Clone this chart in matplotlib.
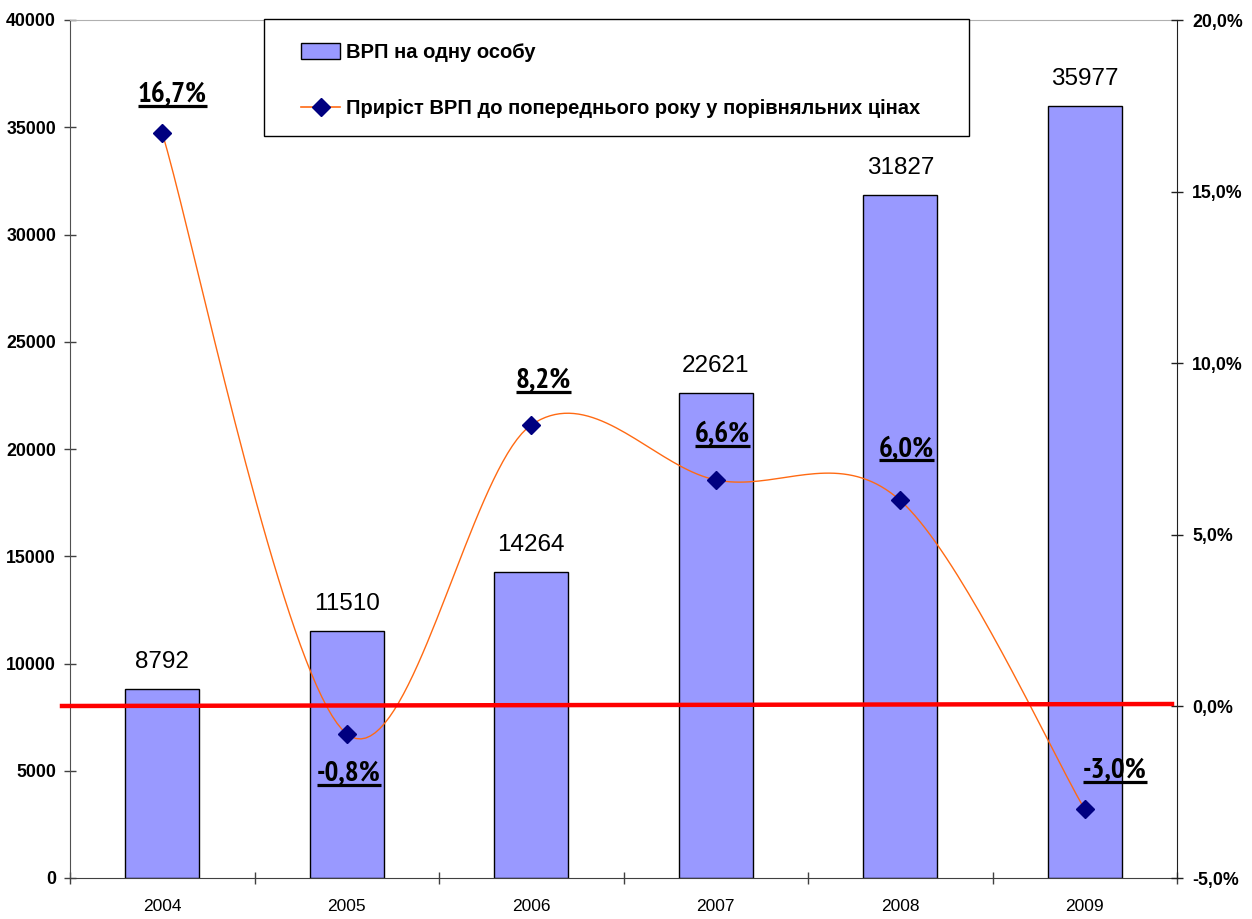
import numpy as np
import matplotlib
matplotlib.use('Agg')
import matplotlib.pyplot as plt
from matplotlib import font_manager as fm
from matplotlib.lines import Line2D
from matplotlib.patches import Rectangle, Patch

# ---------------- data ----------------
years = ['2004', '2005', '2006', '2007', '2008', '2009']
gdp_per_capita = [8792, 11510, 14264, 22621, 31827, 35977]
growth_pct = [16.7, -0.8, 8.2, 6.6, 6.0, -3.0]
growth_labels = ['16,7%', '-0,8%', '8,2%', '6,6%', '6,0%', '-3,0%']
left_ticks = [0, 5000, 10000, 15000, 20000, 25000, 30000, 35000, 40000]
right_ticks = [-5, 0, 5, 10, 15, 20]
right_tick_labels = ['-5,0%', '0,0%', '5,0%', '10,0%', '15,0%', '20,0%']
legend_labels = ['ВРП на одну особу',
                 'Приріст ВРП до попереднього року у порівняльних цінах']
# label offsets (pixels) of growth labels relative to markers
growth_label_dx = [10, 2, 12, 7, 6, 30]
growth_label_dy = [38, -40, 44, 45, 51, 38]

# ---------------- fonts ----------------
names = {f.name for f in fm.fontManager.ttflist}


def pick(cands):
    for c in cands:
        if c in names:
            return c
    return 'Liberation Sans'


SANS = pick(['Liberation Sans', 'Arimo'])
NARROW = pick(['Liberation Sans Narrow', 'Arial Narrow', 'PT Sans Narrow',
               'Roboto Condensed', 'Open Sans Condensed', 'Liberation Sans'])

BAR_C = '#9999FF'
LINE_C = '#FF6A13'
MARK_C = '#000080'

W, H = 1252, 919
fig = plt.figure(figsize=(W / 100, H / 100), dpi=100)
L, R, T, B = 70, 1177, 20, 878
ax = fig.add_axes([L / W, (H - B) / H, (R - L) / W, (B - T) / H])

x = np.arange(len(years))
ax.bar(x, gdp_per_capita, width=0.40, color=BAR_C, edgecolor='black',
       linewidth=1.0, zorder=2)
ax.set_xlim(-0.5, len(years) - 0.5)
ax.set_ylim(0, 40000)
ax.set_yticks(left_ticks)
ax.set_yticklabels([str(v) for v in left_ticks], fontfamily=SANS,
                   fontweight='bold', fontsize=12.8)
ax.set_xticks(np.arange(-0.5, len(years), 1.0))
ax.set_xticklabels([])
ax.set_xticks(x, minor=True)
ax.set_xticklabels(years, minor=True, fontfamily=SANS, fontsize=12.5)
ax.tick_params(axis='x', which='minor', length=0, pad=15)
ax.tick_params(axis='x', which='major', direction='inout', length=9,
               width=1, color='#404040')
ax.tick_params(axis='y', direction='inout', length=8, width=1,
               color='#404040', pad=6)

ax.spines['left'].set_color('#505050')
ax.spines['bottom'].set_color('#404040')
ax.spines['top'].set_color('#B0B0B0')
ax.spines['right'].set_visible(False)

for xi, v in zip(x, gdp_per_capita):
    ax.annotate(str(v), (xi, v), xytext=(0, 19.5), textcoords='offset points',
                ha='center', va='center', fontsize=17.5, fontfamily=SANS,
                zorder=5)

ax2 = ax.twinx()
ax2.set_position(ax.get_position())
ax2.set_ylim(-5, 20)
ax2.set_yticks(right_ticks)
ax2.set_yticklabels(right_tick_labels, fontfamily=SANS, fontweight='bold',
                    fontsize=12.8)
ax2.tick_params(axis='y', direction='inout', length=8, width=1,
                color='#202020', pad=7)
for s in ['left', 'top', 'bottom']:
    ax2.spines[s].set_visible(False)
ax2.spines['right'].set_color('#202020')


def excel_smooth(pts, n=40):
    out = [pts[0]]
    for i in range(len(pts) - 1):
        p0 = pts[i - 1] if i > 0 else pts[i]
        p1 = pts[i]
        p2 = pts[i + 1]
        p3 = pts[i + 2] if i + 2 < len(pts) else pts[i + 1]
        c1 = p1 + (p2 - p0) / 6.0
        c2 = p2 - (p3 - p1) / 6.0
        t = np.linspace(0, 1, n)[1:, None]
        seg = ((1 - t) ** 3) * p1 + 3 * ((1 - t) ** 2) * t * c1 + \
            3 * (1 - t) * (t ** 2) * c2 + (t ** 3) * p2
        out.extend(seg)
    return np.array(out)


disp = ax2.transData.transform(np.column_stack([x, growth_pct]))
smooth = ax2.transData.inverted().transform(excel_smooth(disp))
ax2.plot(smooth[:, 0], smooth[:, 1], color=LINE_C, lw=1.0, zorder=3)
ax2.plot(x, growth_pct, linestyle='none', marker='D', ms=9,
         mfc=MARK_C, mec=MARK_C, zorder=4)

# red zero line (slightly tilted, drawn shape)
fig.add_artist(Line2D([62 / W, 1172 / W], [(H - 706) / H, (H - 704) / H],
                      transform=fig.transFigure, color='#FF0000', lw=3.2,
                      zorder=3.5))

# growth labels, bold and underlined
px2pt = 72.0 / 100.0
gtexts = []
for xi, v, lab, dx, dy in zip(x, growth_pct, growth_labels,
                              growth_label_dx, growth_label_dy):
    t = ax2.annotate(lab, (xi, v), xytext=(dx * px2pt, dy * px2pt),
                     textcoords='offset points', ha='center', va='center',
                     fontsize=21, fontweight='bold', fontfamily=NARROW,
                     zorder=6)
    gtexts.append(t)

fig.canvas.draw()
rend = fig.canvas.get_renderer()
for t in gtexts:
    bb = t.get_window_extent(rend)
    yline = bb.y0 + 2
    fig.add_artist(Line2D([bb.x0 / W, bb.x1 / W], [yline / H, yline / H],
                          transform=fig.transFigure, color='black', lw=2.3,
                          solid_capstyle='butt'))

# legend box
fig.add_artist(Rectangle((264 / W, (H - 136) / H), 705 / W, 117 / H,
                         transform=fig.transFigure, facecolor='white',
                         edgecolor='black', lw=1.0, zorder=7))
handles = [Patch(facecolor=BAR_C, edgecolor='black', lw=1.0),
           Line2D([], [], color=LINE_C, lw=1.2, marker='D', ms=9,
                  mfc=MARK_C, mec=MARK_C)]
leg = fig.legend(handles, legend_labels, loc='upper left',
                 bbox_to_anchor=(301 / W, (H - 43) / H),
                 frameon=False, borderpad=0, borderaxespad=0,
                 handlelength=1.95, handleheight=0.8, handletextpad=0.3,
                 labelspacing=1.85,
                 prop={'family': SANS, 'weight': 'bold', 'size': 14.5})
leg.set_zorder(8)

fig.savefig('out.png', dpi=100)
